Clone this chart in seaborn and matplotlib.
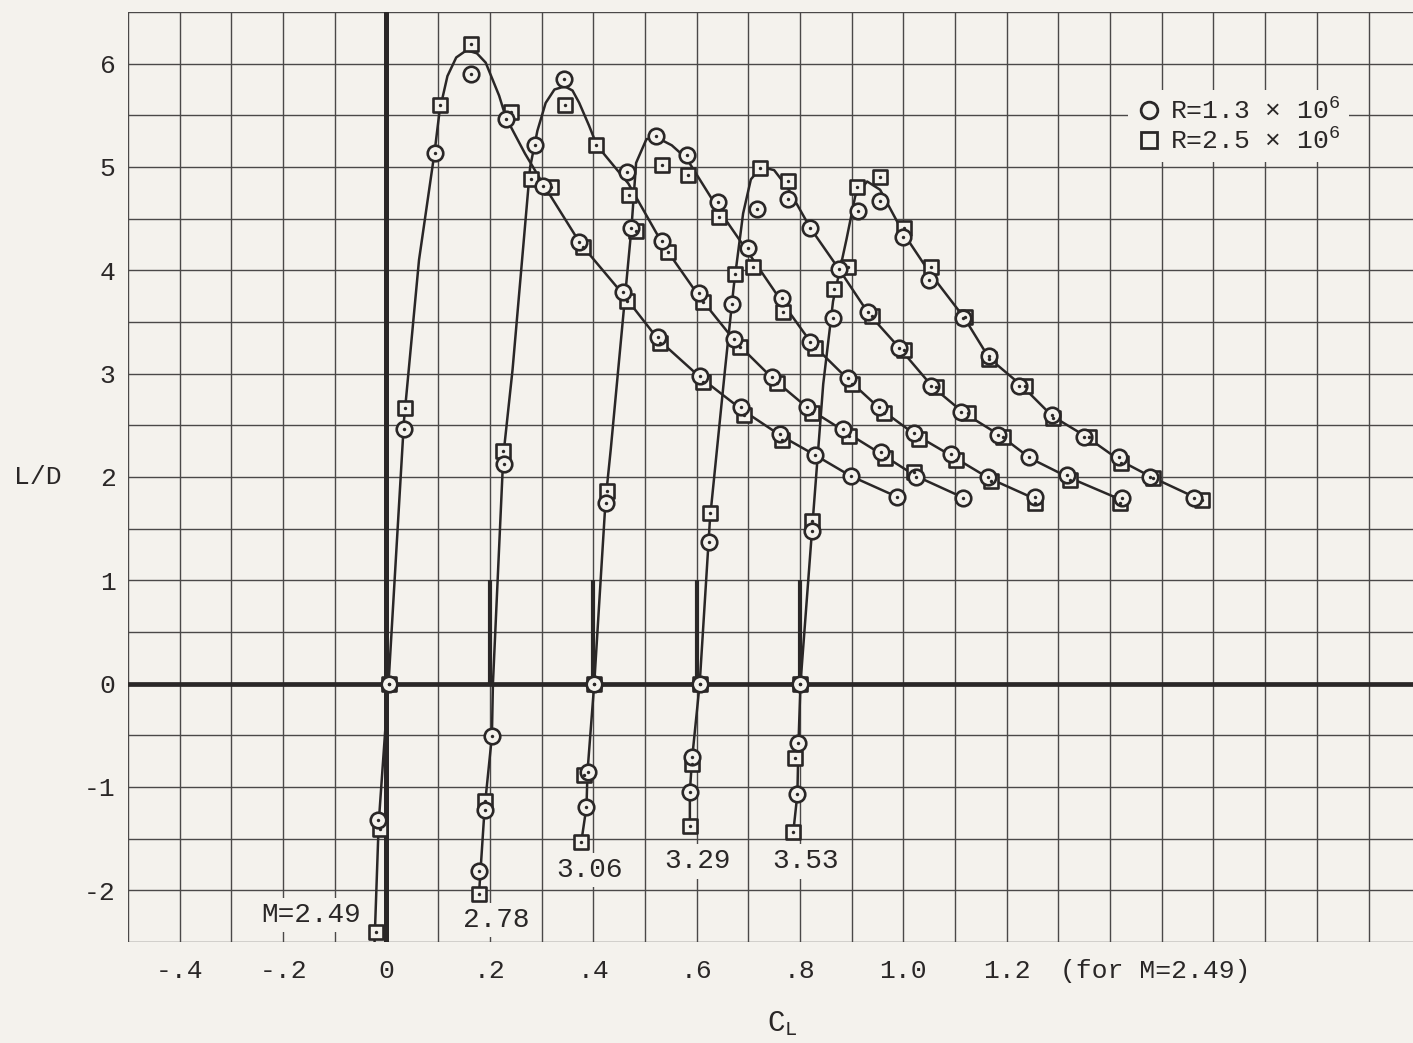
#  L/D against C_L for five Mach numbers (curves offset by 0.2 in C_L)
import numpy as np
import pandas as pd
import matplotlib
matplotlib.use("Agg")
import matplotlib.pyplot as plt
import seaborn as sns
from matplotlib.lines import Line2D

# ── Data ─────────────────────────────────────────────────────
mach_names = ["2.49", "2.78", "3.06", "3.29", "3.53"]
mach_offsets = [0.2, 0.4, 0.6, 0.8]          # zero references of shifted curves
mach_labels = ["M=2.49", "2.78", "3.06", "3.29", "3.53"]
label_cl = [-0.146, 0.212, 0.393, 0.601, 0.810]
label_ld = [-2.24, -2.29, -1.80, -1.72, -1.72]

# M = 2.49
cl_249_circ = [-0.016, 0.004, 0.033, 0.093, 0.163, 0.231, 0.303, 0.373, 0.457, 0.525,
               0.606, 0.686, 0.762, 0.830, 0.898, 0.987]
ld_249_circ = [-1.32, 0.00, 2.46, 5.14, 5.90, 5.46, 4.82, 4.27, 3.79, 3.35,
               2.98, 2.68, 2.42, 2.21, 2.01, 1.81]
cl_249_sq = [-0.021, -0.012, 0.004, 0.035, 0.103, 0.163, 0.241, 0.319, 0.381, 0.466,
             0.529, 0.612, 0.692, 0.766]
ld_249_sq = [-2.40, -1.41, 0.00, 2.67, 5.60, 6.19, 5.53, 4.81, 4.23, 3.70,
             3.30, 2.92, 2.60, 2.36]
cl_249_fair = [-0.023, -0.015, 0.004, 0.034, 0.063, 0.093, 0.103, 0.118, 0.135,
               0.155, 0.175, 0.192, 0.218, 0.231, 0.268, 0.305, 0.375, 0.459, 0.526,
               0.608, 0.688, 0.763, 0.830, 0.898, 0.987]
ld_249_fair = [-2.50, -1.35, 0.00, 2.55, 4.10, 5.14, 5.55, 5.88, 6.06,
               6.13, 6.10, 6.01, 5.69, 5.48, 5.13, 4.82, 4.26, 3.76, 3.33,
               2.96, 2.65, 2.40, 2.21, 2.01, 1.81]

# M = 2.78
cl_278_circ = [0.179, 0.190, 0.204, 0.227, 0.288, 0.344, 0.466, 0.534, 0.604, 0.672,
               0.746, 0.814, 0.884, 0.956, 1.024, 1.116]
ld_278_circ = [-1.81, -1.22, -0.51, 2.13, 5.21, 5.85, 4.95, 4.28, 3.78, 3.34,
               2.97, 2.68, 2.46, 2.24, 2.00, 1.80]
cl_278_sq = [0.179, 0.190, 0.225, 0.280, 0.346, 0.406, 0.470, 0.544, 0.612, 0.684,
             0.756, 0.824, 0.894, 0.964, 1.020]
ld_278_sq = [-2.04, -1.14, 2.25, 4.88, 5.60, 5.21, 4.73, 4.18, 3.69, 3.26,
             2.91, 2.62, 2.40, 2.18, 2.05]
cl_278_fair = [0.179, 0.190, 0.204, 0.206, 0.226, 0.244, 0.278, 0.292, 0.308, 0.325,
               0.345, 0.360, 0.373, 0.392, 0.407, 0.468, 0.536, 0.606, 0.675, 0.748,
               0.817, 0.887, 0.958, 1.024, 1.116]
ld_278_fair = [-2.04, -1.20, -0.51, 0.00, 2.20, 3.04, 5.00, 5.35, 5.62, 5.75,
               5.78, 5.74, 5.62, 5.40, 5.21, 4.84, 4.24, 3.74, 3.31, 2.95,
               2.66, 2.44, 2.22, 2.01, 1.80]

# M = 3.06
cl_306_circ = [0.387, 0.389, 0.402, 0.424, 0.474, 0.521, 0.581, 0.641, 0.700, 0.766,
               0.820, 0.892, 0.952, 1.020, 1.092, 1.164, 1.254]
ld_306_circ = [-1.19, -0.85, 0.00, 1.75, 4.41, 5.30, 5.12, 4.66, 4.22, 3.73,
               3.31, 2.96, 2.68, 2.43, 2.22, 2.00, 1.81]
cl_306_sq = [0.377, 0.383, 0.402, 0.426, 0.482, 0.533, 0.583, 0.643, 0.709, 0.768,
             0.830, 0.900, 0.962, 1.030, 1.102, 1.170, 1.254]
ld_306_sq = [-1.53, -0.88, 0.00, 1.86, 4.38, 5.02, 4.92, 4.52, 4.03, 3.60,
             3.25, 2.90, 2.62, 2.37, 2.16, 1.96, 1.75]
cl_306_fair = [0.377, 0.387, 0.389, 0.402, 0.424, 0.434, 0.474, 0.483, 0.503, 0.525,
               0.552, 0.581, 0.641, 0.703, 0.767, 0.823, 0.894, 0.955, 1.023, 1.095,
               1.165, 1.254]
ld_306_fair = [-1.53, -1.19, -0.85, 0.00, 1.78, 2.27, 4.41, 5.04, 5.27, 5.28,
               5.21, 5.08, 4.60, 4.15, 3.68, 3.29, 2.94, 2.66, 2.41, 2.20,
               1.99, 1.79]

# M = 3.29
cl_329_circ = [0.587, 0.591, 0.606, 0.624, 0.669, 0.717, 0.776, 0.820, 0.875, 0.931,
               0.991, 1.053, 1.112, 1.184, 1.244, 1.316, 1.423]
ld_329_circ = [-1.05, -0.71, 0.00, 1.37, 3.67, 4.59, 4.69, 4.41, 4.01, 3.60,
               3.25, 2.88, 2.63, 2.41, 2.19, 2.02, 1.80]
cl_329_sq = [0.587, 0.591, 0.606, 0.626, 0.674, 0.723, 0.776, 0.892, 0.939, 1.001,
             1.063, 1.125, 1.193, 1.322, 1.419]
ld_329_sq = [-1.38, -0.78, 0.00, 1.65, 3.96, 4.99, 4.86, 4.03, 3.56, 3.23,
             2.87, 2.62, 2.39, 1.97, 1.75]
cl_329_fair = [0.587, 0.587, 0.591, 0.606, 0.626, 0.655, 0.672, 0.690, 0.705, 0.725,
               0.750, 0.776, 0.820, 0.877, 0.933, 0.994, 1.057, 1.117, 1.188, 1.246,
               1.318, 1.421]
ld_329_fair = [-1.38, -1.05, -0.74, 0.00, 1.60, 3.04, 3.85, 4.55, 4.88, 5.00,
               4.97, 4.80, 4.41, 4.00, 3.58, 3.24, 2.87, 2.62, 2.40, 2.18,
               2.00, 1.78]

# M = 3.53
cl_353_circ = [0.795, 0.797, 0.801, 0.824, 0.863, 0.912, 0.954, 0.999, 1.050, 1.116,
               1.166, 1.224, 1.287, 1.349, 1.417, 1.477, 1.563]
ld_353_circ = [-1.07, -0.57, 0.00, 1.48, 3.54, 4.57, 4.67, 4.32, 3.91, 3.54,
               3.17, 2.88, 2.60, 2.39, 2.19, 2.00, 1.80]
cl_353_sq = [0.787, 0.791, 0.801, 0.824, 0.865, 0.910, 0.954, 1.001, 1.053, 1.120,
             1.166, 1.236, 1.289, 1.359, 1.421, 1.483, 1.578]
ld_353_sq = [-1.44, -0.72, 0.00, 1.57, 3.82, 4.81, 4.90, 4.41, 4.03, 3.55,
             3.14, 2.88, 2.57, 2.39, 2.14, 1.99, 1.78]
cl_353_fair = [0.787, 0.795, 0.797, 0.801, 0.824, 0.845, 0.864, 0.890, 0.907, 0.930,
               0.955, 1.000, 1.052, 1.118, 1.166, 1.230, 1.288, 1.354, 1.419, 1.480,
               1.570]
ld_353_fair = [-1.44, -1.07, -0.60, 0.00, 1.53, 2.90, 3.70, 4.30, 4.72, 4.86,
               4.78, 4.36, 3.97, 3.54, 3.15, 2.88, 2.59, 2.39, 2.16, 2.00,
               1.79]

x_tick_vals = [-0.4, -0.2, 0.0, 0.2, 0.4, 0.6, 0.8, 1.0, 1.2, 1.487]
x_tick_text = ["-.4", "-.2", "0", ".2", ".4", ".6", ".8", "1.0", "1.2", "(for M=2.49)"]
y_tick_vals = [-2, -1, 0, 1, 2, 3, 4, 5, 6]
y_tick_text = ["-2", "-1", "0", "1", "2", "3", "4", "5", "6"]


def frame(cl, ld, mach):
    return pd.DataFrame({"CL": cl, "LD": ld, "Mach": mach})


circ = pd.concat([frame(cl_249_circ, ld_249_circ, "2.49"),
                  frame(cl_278_circ, ld_278_circ, "2.78"),
                  frame(cl_306_circ, ld_306_circ, "3.06"),
                  frame(cl_329_circ, ld_329_circ, "3.29"),
                  frame(cl_353_circ, ld_353_circ, "3.53")], ignore_index=True)
sq = pd.concat([frame(cl_249_sq, ld_249_sq, "2.49"),
                frame(cl_278_sq, ld_278_sq, "2.78"),
                frame(cl_306_sq, ld_306_sq, "3.06"),
                frame(cl_329_sq, ld_329_sq, "3.29"),
                frame(cl_353_sq, ld_353_sq, "3.53")], ignore_index=True)
fair = pd.concat([frame(cl_249_fair, ld_249_fair, "2.49"),
                  frame(cl_278_fair, ld_278_fair, "2.78"),
                  frame(cl_306_fair, ld_306_fair, "3.06"),
                  frame(cl_329_fair, ld_329_fair, "3.29"),
                  frame(cl_353_fair, ld_353_fair, "3.53")], ignore_index=True)

# ── Style ────────────────────────────────────────────────────
paper = "#f4f2ed"
ink = "#2a2727"
grid_c = "#4a4848"

sns.set_theme(style="white")
plt.rcParams["font.family"] = ["Liberation Mono", "DejaVu Sans Mono"]
plt.rcParams["mathtext.default"] = "regular"
plt.rcParams["text.color"] = ink

fig = plt.figure(figsize=(14.13, 10.43), dpi=100, facecolor=paper)
ax = fig.add_axes([128 / 1413, 1 - 942 / 1043, 1285 / 1413, 930 / 1043])
ax.set_facecolor(paper)

# grid paper: 0.1 in C_L, 0.5 in L/D (keep minor lines under the labelled ones too)
ax.xaxis.remove_overlapping_locs = False
ax.yaxis.remove_overlapping_locs = False
ax.set_xticks(np.arange(-0.5, 2.01, 0.1), minor=True)
ax.set_yticks(np.arange(-2.5, 6.51, 0.5), minor=True)
ax.grid(True, which="minor", color=grid_c, lw=1.0, zorder=0)
ax.grid(False, which="major")
ax.set_axisbelow(True)

ax.axhline(0, color=ink, lw=3.4, zorder=1)
ax.axvline(0, color=ink, lw=3.6, zorder=1)
ax.vlines(mach_offsets, 0, 1.0, color=ink, lw=3.0, zorder=1)

# faired curves, then symbols (squares under circles)
sns.lineplot(data=fair, x="CL", y="LD", units="Mach", estimator=None, sort=False,
             color=ink, lw=1.8, ax=ax, zorder=3)
sns.scatterplot(data=sq, x="CL", y="LD", marker="s", s=105, facecolor=paper,
                edgecolor=ink, linewidth=1.9, ax=ax, zorder=4)
sns.scatterplot(data=circ, x="CL", y="LD", marker="o", s=125, facecolor=paper,
                edgecolor=ink, linewidth=1.9, ax=ax, zorder=5)
sns.scatterplot(data=pd.concat([sq, circ]), x="CL", y="LD", marker="o", s=6,
                color=ink, linewidth=0, ax=ax, zorder=6)

# Mach number labels
for name, x, y in zip(mach_labels, label_cl, label_ld):
    ax.text(x, y, name, fontsize=20, ha="center", va="center", color=ink, zorder=7,
            bbox=dict(boxstyle="square,pad=0.15", fc=paper, ec="none"))

ax.set_xlim(-0.5, 1.986)
ax.set_ylim(-2.5, 6.5)
ax.set_xticks(x_tick_vals)
ax.set_xticklabels(x_tick_text)
ax.set_yticks(y_tick_vals)
ax.set_yticklabels(y_tick_text)
ax.tick_params(which="both", length=0, labelsize=19, colors=ink)
ax.tick_params(axis="x", pad=12)
ax.tick_params(axis="y", pad=9)
for s in ax.spines.values():
    s.set_visible(False)

ax.set_xlabel(r"C$_{L}$", fontsize=21, color=ink)
ax.xaxis.set_label_coords(0.509, -0.072)
ax.set_ylabel("L/D", fontsize=19, color=ink, rotation=0, ha="center", va="center")
ax.yaxis.set_label_coords(-0.070, 0.5)

handles = [Line2D([], [], ls="none", marker="o", ms=12, mfc=paper, mec=ink, mew=2.0),
           Line2D([], [], ls="none", marker="s", ms=11, mfc=paper, mec=ink, mew=2.0)]
leg = ax.legend(handles, [r"R=1.3 $\times$ 10$^{6}$", r"R=2.5 $\times$ 10$^{6}$"],
                loc="upper left", bbox_to_anchor=(0.768, 0.93), frameon=True,
                fontsize=19, handletextpad=0.3, labelspacing=0.15, borderpad=0.3,
                handlelength=1.0)
leg.get_frame().set_facecolor(paper)
leg.get_frame().set_edgecolor("none")
leg.get_frame().set_alpha(1)
leg.set_zorder(8)

fig.savefig("out.png", dpi=100, facecolor=paper)
